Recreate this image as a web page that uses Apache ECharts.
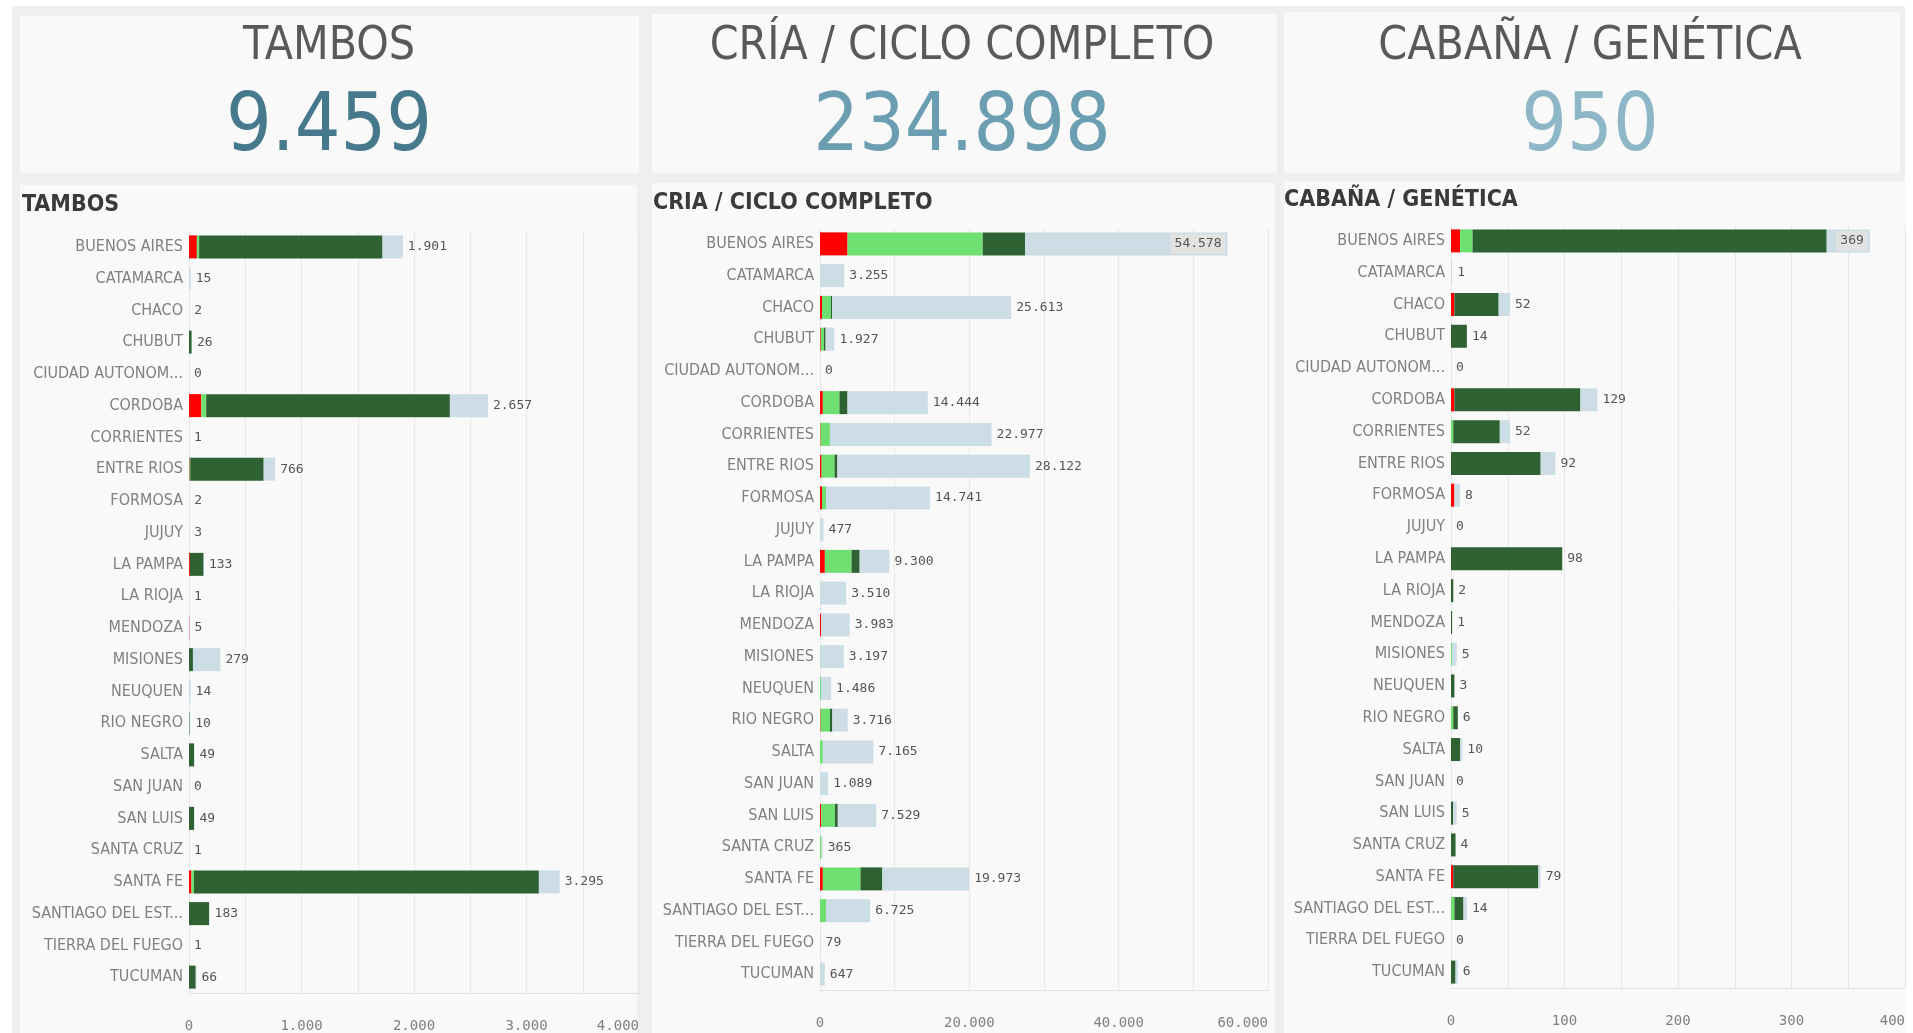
<!DOCTYPE html>
<html>
<head>
<meta charset="utf-8">
<script src="https://cdn.jsdelivr.net/npm/echarts@6/dist/echarts.min.js"></script>
<style>
html,body{margin:0;padding:0;background:#ffffff;}
#chart{width:1913px;height:1033px;}
</style>
</head>
<body>
<div id="chart"></div>
<script>
// ---------- DATA ----------
const categories = ['BUENOS AIRES','CATAMARCA','CHACO','CHUBUT','CIUDAD AUTONOM...','CORDOBA','CORRIENTES','ENTRE RIOS','FORMOSA','JUJUY','LA PAMPA','LA RIOJA','MENDOZA','MISIONES','NEUQUEN','RIO NEGRO','SALTA','SAN JUAN','SAN LUIS','SANTA CRUZ','SANTA FE','SANTIAGO DEL EST...','TIERRA DEL FUEGO','TUCUMAN'];

const panelTitles = ['TAMBOS','CRIA / CICLO COMPLETO','CABAÑA / GENÉTICA'];
const kpiTitles = ['TAMBOS','CRÍA / CICLO COMPLETO','CABAÑA / GENÉTICA'];

// TAMBOS segments
const tambosRed   = [70,0,0,0,0,109,0,5,0,0,8,0,3,0,0,0,0,0,0,0,22,0,0,0];
const tambosLight = [20,0,0,0,0,44,0,6,0,0,0,0,0,0,0,0,0,0,0,0,22,0,0,0];
const tambosDark  = [1630,0,0,24,0,2166,0,653,0,0,122,0,0,35,0,6,45,0,45,0,3066,178,0,60];
const tambosRest  = [181,15,2,2,0,338,1,102,2,3,3,1,2,244,14,4,4,0,4,1,185,5,1,6];

// CRIA / CICLO COMPLETO segments
const criaRed   = [3686,0,270,100,0,380,80,217,270,0,650,0,150,0,0,80,0,0,160,0,380,0,0,0];
const criaLight = [18103,0,1192,430,0,2222,1250,1734,542,0,3577,0,0,60,150,1247,380,0,1843,200,5041,800,0,47];
const criaDark  = [5691,0,160,220,0,1084,0,380,0,0,1084,0,0,0,0,325,0,0,380,0,2927,0,0,0];
const criaRest  = [27098,3255,23991,1177,0,10758,21647,25791,13929,477,3989,3510,3833,3137,1336,2064,6785,1089,5146,165,11625,5925,79,600];

// CABAÑA / GENETICA segments
const cabRed   = [8,0,3,0,0,3,0,0,3,0,0,0,0,0,0,0,0,0,0,0,2,0,0,0];
const cabLight = [11,0,0,0,0,0,2,0,0,0,0,0,0,1,0,2,0,0,0,0,0,3,0,0];
const cabDark  = [312,0,39,14,0,111,41,79,0,0,98,2,1,0,3,4,8,0,2,4,75,8,0,4];
const cabRest  = [38,1,10,0,0,15,9,13,5,0,0,0,0,4,0,0,2,0,3,0,2,3,0,2];

// axis settings
const axisMax      = [4000, 60000, 400];
const axisInterval = [500, 10000, 50];
const labelEvery   = [1000, 20000, 100];

// ---------- HELPERS ----------
function fmt(n){ return String(Math.round(n)).replace(/\B(?=(\d{3})+(?!\d))/g,'.'); }
const panels = [
  [tambosRed,tambosLight,tambosDark,tambosRest],
  [criaRed,criaLight,criaDark,criaRest],
  [cabRed,cabLight,cabDark,cabRest]
];
const totals = panels.map(p => categories.map((c,i)=>p[0][i]+p[1][i]+p[2][i]+p[3][i]));
const kpiValues = totals.map(t => t.reduce((a,b)=>a+b,0));

const colors = ['#ff0000','#6ee071','#2e6232','#cddde6'];
const narrow = '"Liberation Sans Narrow","DejaVu Sans Condensed","Roboto",sans-serif';
const mono = '"DejaVu Sans Mono",monospace';

const grids = [
  {left:189, width:450, top:231, height:762},
  {left:820, width:448, top:228, height:762},
  {left:1451, width:454, top:225, height:763}
];

const xAxes = grids.map((g,k)=>({
  gridIndex:k, type:'value', min:0, max:axisMax[k], interval:axisInterval[k],
  axisLine:{show:true, lineStyle:{color:'#e2e2e2'}},
  axisTick:{show:false},
  splitLine:{show:true, lineStyle:{color:'#e8e8e8', width:1}},
  axisLabel:{
    margin:26, color:'#808080', fontFamily:mono, fontSize:14,
    alignMaxLabel:'right',
    formatter: v => (v % labelEvery[k] === 0 ? fmt(v) : '')
  }
}));

const yAxes = grids.map((g,k)=>({
  gridIndex:k, type:'category', data:categories, inverse:true,
  axisLine:{show:false}, axisTick:{show:false}, splitLine:{show:false},
  axisLabel:{color:'#808080', fontFamily:narrow, fontSize:16, margin:6}
}));

const series = [];
panels.forEach((p,k)=>{
  p.forEach((arr,s)=>{
    const isLast = s === 3;
    const data = arr.map((v,i)=>{
      if (isLast && i === 0 && k > 0) {
        return {value:v, label:{position:'insideRight', distance:2, backgroundColor:'#e2e2e2', padding:[4,4,3,4]}};
      }
      return v;
    });
    series.push({
      type:'bar', xAxisIndex:k, yAxisIndex:k, stack:'p'+k,
      barWidth:23, data:data,
      itemStyle:{color:colors[s]},
      silent:true,
      label: isLast ? {
        show:true, position:'right', distance:5,
        color:'#555555', fontFamily:mono, fontSize:13,
        formatter: prm => fmt(totals[k][prm.dataIndex])
      } : {show:false}
    });
  });
});

// ---------- BACKGROUND CARDS & TEXT ----------
const cards = [
  {x:20, y:16, w:619, h:157}, {x:20, y:185, w:617, h:848},
  {x:652, y:14, w:625, h:159}, {x:652, y:183, w:623, h:850},
  {x:1284, y:12, w:616, h:161}, {x:1284, y:181, w:621, h:852}
];
const kpiCenters = [329, 962, 1590];
const kpiColors = ['#46798c','#6c9eb2','#8db6c6'];
const titleLefts = [22, 653, 1284];
const titleYs = [205, 203, 200];

const elements = [
  {type:'rect', z:-20, shape:{x:12, y:6, width:1893, height:1027}, style:{fill:'#efefef'}}
];
cards.forEach(c=>elements.push({type:'rect', z:-10, shape:{x:c.x,y:c.y,width:c.w,height:c.h}, style:{fill:'#f9f9f9'}}));
kpiTitles.forEach((t,k)=>{
  elements.push({type:'text', z:50, x:kpiCenters[k], y:47,
    style:{text:t, fill:'#595959', font:'46px '+narrow, textAlign:'center', align:'center', textVerticalAlign:'middle', verticalAlign:'middle'}});
  elements.push({type:'text', z:50, x:kpiCenters[k], y:129,
    style:{text:fmt(kpiValues[k]), fill:kpiColors[k], font:'80px '+narrow, textAlign:'center', align:'center', textVerticalAlign:'middle', verticalAlign:'middle'}});
});
panelTitles.forEach((t,k)=>{
  elements.push({type:'text', z:50, x:titleLefts[k], y:titleYs[k],
    style:{text:t, fill:'#3a3a3a', font:'bold 23px '+narrow, textAlign:'left', align:'left', textVerticalAlign:'middle', verticalAlign:'middle'}});
});

const chart = echarts.init(document.getElementById('chart'), null, {renderer:'canvas'});
chart.setOption({
  backgroundColor:'#ffffff',
  animation:false,
  grid: grids,
  xAxis: xAxes,
  yAxis: yAxes,
  series: series,
  graphic: {elements: elements}
});
</script>
</body>
</html>
